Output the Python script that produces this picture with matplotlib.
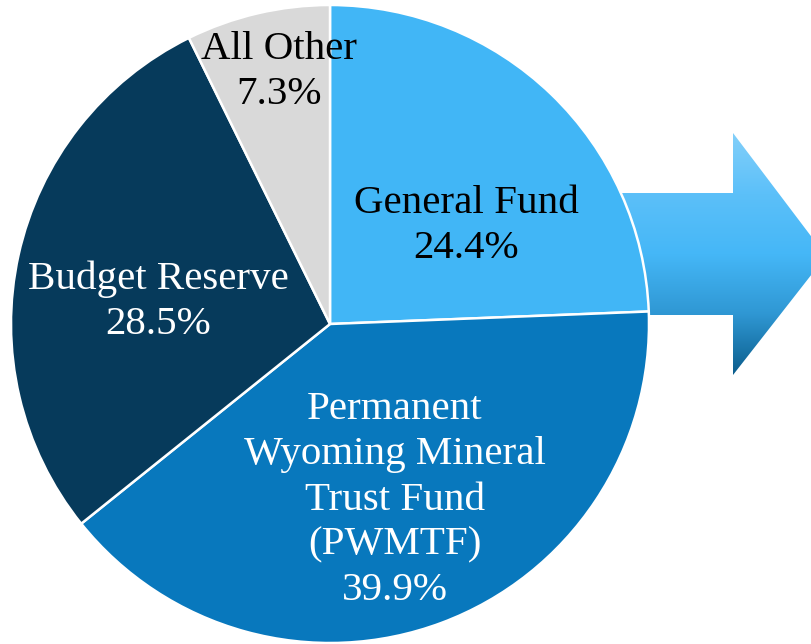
import numpy as np
import matplotlib
matplotlib.use("Agg")
import matplotlib.pyplot as plt
from matplotlib.patches import Polygon
from matplotlib.colors import LinearSegmentedColormap

labels = ["General Fund", "Permanent\nWyoming Mineral\nTrust Fund\n(PWMTF)", "Budget Reserve", "All Other"]
shares = [24.4, 39.9, 28.5, 7.3]
colors = ["#41b6f6", "#0878bd", "#063a5b", "#d9d9d9"]
text_colors = ["black", "white", "white", "black"]
# label block centres, pixels from top-left
label_pos = [(466, 226), (395, 500), (158, 302), (279, 72)]

W, H = 812, 644
fig = plt.figure(figsize=(W / 100, H / 100), dpi=100)
ax = fig.add_axes([0, 0, 1, 1])

# gradient arrow behind the pie
arrow_px = [(600, 193), (733, 193), (733, 133), (826, 256), (733, 375), (733, 315), (600, 315)]
arrow = Polygon([(x, H - y) for x, y in arrow_px], closed=True, facecolor="none", edgecolor="none")
ax.add_patch(arrow)
grad_cmap = LinearSegmentedColormap.from_list(
    "arrow", ["#82cffa", "#5cc0f9", "#45b7f7", "#2f97d3", "#0b5d8c"])
grad = np.linspace(0, 1, 256).reshape(-1, 1)
im = ax.imshow(grad, cmap=grad_cmap, extent=(600, 830, H - 375, H - 133),
               origin="upper", aspect="auto", zorder=1)
im.set_clip_path(arrow)

wedges, _ = ax.pie(shares, colors=colors, startangle=90, counterclock=False,
                   center=(330, H - 324), radius=319,
                   wedgeprops=dict(edgecolor="white", linewidth=1.8))
for w in wedges:
    w.set_zorder(2)

for lab, share, (x, y), tc in zip(labels, shares, label_pos, text_colors):
    ax.text(x, H - y, f"{lab}\n{share:.1f}%", ha="center", va="center",
            color=tc, fontsize=29.5, family="Liberation Serif", linespacing=1.3, zorder=3)

ax.set_xlim(0, W)
ax.set_ylim(0, H)
ax.set_aspect("auto")
ax.axis("off")

fig.savefig("out.png", dpi=100)
